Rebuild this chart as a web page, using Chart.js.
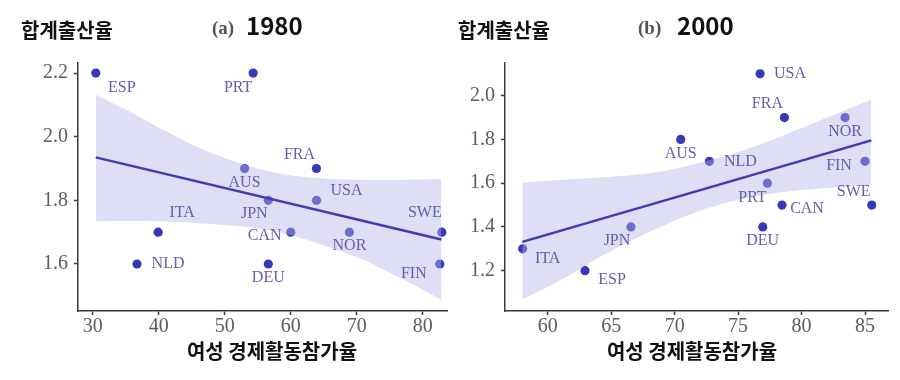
<!DOCTYPE html>
<html><head><meta charset="utf-8">
<script src="https://cdn.jsdelivr.net/npm/chart.js@4.4.1/dist/chart.umd.min.js"></script>
<style>
html,body{margin:0;padding:0;background:#fff;width:900px;height:380px;overflow:hidden;}
.cv{position:absolute;top:0;}
.t{position:absolute;white-space:nowrap;line-height:1;}
.ko{font-family:'Noto Sans CJK KR','Noto Sans',sans-serif;font-weight:700;color:#111;}
.se{font-family:'Liberation Serif',serif;color:#555;font-weight:700;}
</style></head>
<body>
<div class="cv" style="left:0;width:452px;height:380px;"><canvas id="c1" width="452" height="380"></canvas></div>
<div class="cv" style="left:450px;width:450px;height:380px;"><canvas id="c2" width="450" height="380"></canvas></div>

<div class="t ko" style="left:21px;top:20px;font-size:20px;">합계출산율</div>
<div class="t se" style="left:212px;top:18px;font-size:19px;">(a)</div>
<div class="t ko" style="left:246px;top:13px;font-size:24px;">1980</div>
<div class="t ko" style="left:172px;top:341px;width:200px;text-align:center;font-size:20px;">여성 경제활동참가율</div>

<div class="t ko" style="left:458px;top:20px;font-size:20px;">합계출산율</div>
<div class="t se" style="left:638px;top:18px;font-size:19px;">(b)</div>
<div class="t ko" style="left:677px;top:13px;font-size:24px;">2000</div>
<div class="t ko" style="left:592px;top:341px;width:200px;text-align:center;font-size:20px;">여성 경제활동참가율</div>

<script>
// ---------- data ----------
const countries1980 = ['ESP','PRT','FRA','AUS','USA','JPN','ITA','CAN','NOR','SWE','NLD','DEU','FIN'];
const flp1980 = [30.45, 54.3, 63.9, 53.0, 63.9, 56.6, 39.9, 60.0, 68.9, 82.9, 36.7, 56.6, 82.6];
const tfr1980 = [2.2, 2.2, 1.9, 1.9, 1.8, 1.8, 1.7, 1.7, 1.7, 1.7, 1.6, 1.6, 1.6];
const fitX1980 = [30.45, 82.85];
const fitY1980 = [1.935, 1.677];
const bandX1980 = [30.45, 35.5, 40.5, 45.5, 50.5, 55.5, 60.5, 65.5, 70.5, 75.5, 82.85];
const bandUp1980 = [2.132, 2.080, 2.023, 1.971, 1.929, 1.897, 1.877, 1.868, 1.865, 1.864, 1.867];
const bandLo1980 = [1.734, 1.735, 1.734, 1.729, 1.722, 1.710, 1.688, 1.655, 1.617, 1.568, 1.488];
const xTicks1980 = [30, 40, 50, 60, 70, 80];
const yTicks1980 = [1.6, 1.8, 2.0, 2.2];

const countries2000 = ['USA','FRA','NOR','AUS','NLD','FIN','PRT','CAN','SWE','JPN','DEU','ITA','ESP'];
const flp2000 = [76.73, 78.65, 83.43, 70.48, 72.74, 85.0, 77.31, 78.46, 85.53, 66.56, 76.94, 58.03, 62.94];
const tfr2000 = [2.1, 1.9, 1.9, 1.8, 1.7, 1.7, 1.6, 1.5, 1.5, 1.4, 1.4, 1.3, 1.2];
const fitX2000 = [58.0, 85.5];
const fitY2000 = [1.332, 1.796];
const bandX2000 = [58.0, 61.5, 64.1, 66.75, 69.4, 72.0, 74.6, 77.3, 79.9, 82.5, 85.5];
const bandUp2000 = [1.602, 1.617, 1.626, 1.637, 1.658, 1.695, 1.735, 1.790, 1.850, 1.912, 1.983];
const bandLo2000 = [1.068, 1.172, 1.263, 1.343, 1.413, 1.474, 1.519, 1.550, 1.568, 1.580, 1.593];
const xTicks2000 = [60, 65, 70, 75, 80, 85];
const yTicks2000 = [1.2, 1.4, 1.6, 1.8, 2.0];

// ---------- label placement (style, pixels) ----------
const labelOffsets1980 = [[26,15],[-15,15],[-17,-14],[0,14],[30,-10],[-14,13],[24,-19],[-26,4],[0,14],[-17,-19],[31,0],[0,14],[-26,10]];
const labelOffsets2000 = [[30,0],[-17,-14],[0,14],[0,14],[31,0],[-26,4],[-15,15],[25,4],[-18,-13],[-14,14],[0,14],[25,10],[27,9]];

const POINT = 'rgb(55,55,185)';
const LINE = 'rgb(60,60,180)';
const BAND = 'rgba(180,180,231,0.44)';
const LABEL = 'rgb(96,96,176)';
const AXIS = '#3a3a3a';

const labelPlugin = {
  id: 'ptLabels',
  afterDatasetsDraw(chart, args, opts) {
    const ctx = chart.ctx;
    const meta = chart.getDatasetMeta(0);
    ctx.save();
    ctx.font = '16px "Liberation Serif", serif';
    ctx.fillStyle = LABEL;
    ctx.textAlign = 'center';
    ctx.textBaseline = 'middle';
    meta.data.forEach((el, i) => {
      const o = opts.offsets[i];
      ctx.fillText(opts.names[i], el.x + o[0], el.y + o[1]);
    });
    ctx.restore();
  }
};

function toXY(xs, ys) { return xs.map((x, i) => ({x, y: ys[i]})); }

function axis(min, max, ticks, isY, size, fmt) {
  return {
    type: 'linear', min, max,
    afterBuildTicks: s => { s.ticks = ticks.map(v => ({value: v})); },
    afterFit: s => { if (isY) s.width = size; else s.height = size; },
    border: {display: true, color: AXIS, width: 1.5},
    grid: {display: true, drawOnChartArea: false, drawTicks: true, tickLength: 4, tickWidth: 1.5, tickColor: AXIS},
    ticks: {
      font: {family: 'Liberation Serif', size: 20}, color: '#5c5c5c',
      padding: isY ? 6 : 0, autoSkip: false, maxRotation: 0,
      callback: fmt
    }
  };
}

function makeChart(id, c) {
  new Chart(document.getElementById(id), {
    type: 'scatter',
    data: {
      datasets: [
        {data: toXY(c.x, c.y), pointRadius: 4.6, pointBackgroundColor: POINT, pointBorderWidth: 0, order: 4},
        {data: toXY(c.bx, c.bu), showLine: true, pointRadius: 0, borderWidth: 0, borderColor: 'rgba(0,0,0,0)',
         backgroundColor: BAND, fill: '+1', tension: 0.4, cubicInterpolationMode: 'monotone', order: 3},
        {data: toXY(c.bx, c.bl), showLine: true, pointRadius: 0, borderWidth: 0, borderColor: 'rgba(0,0,0,0)',
         fill: false, tension: 0.4, cubicInterpolationMode: 'monotone', order: 2},
        {data: toXY(c.fx, c.fy), showLine: true, pointRadius: 0, borderWidth: 2.5, borderColor: LINE, fill: false, order: 1}
      ]
    },
    options: {
      responsive: false, animation: false, events: [],
      layout: {padding: {top: 63, left: 0, right: c.padRight, bottom: 0}},
      plugins: {legend: {display: false}, tooltip: {enabled: false},
        ptLabels: {names: c.names, offsets: c.offsets}},
      scales: {
        x: axis(c.xmin, c.xmax, c.xt, false, 69, v => String(v)),
        y: axis(c.ymin, c.ymax, c.yt, true, c.yw, v => v.toFixed(1))
      }
    },
    plugins: [labelPlugin]
  });
}

makeChart('c1', {
  x: flp1980, y: tfr1980, names: countries1980, offsets: labelOffsets1980,
  fx: fitX1980, fy: fitY1980, bx: bandX1980, bu: bandUp1980, bl: bandLo1980,
  xt: xTicks1980, yt: yTicks1980,
  xmin: 27.75, xmax: 83.75, ymin: 1.4523, ymax: 2.2315, yw: 78, padRight: 1
});
makeChart('c2', {
  x: flp2000, y: tfr2000, names: countries2000, offsets: labelOffsets2000,
  fx: fitX2000, fy: fitY2000, bx: bandX2000, bu: bandUp2000, bl: bandLo2000,
  xt: xTicks2000, yt: yTicks2000,
  xmin: 56.635, xmax: 86.81, ymin: 1.0158, ymax: 2.1495, yw: 55, padRight: 12
});
</script>
</body></html>
